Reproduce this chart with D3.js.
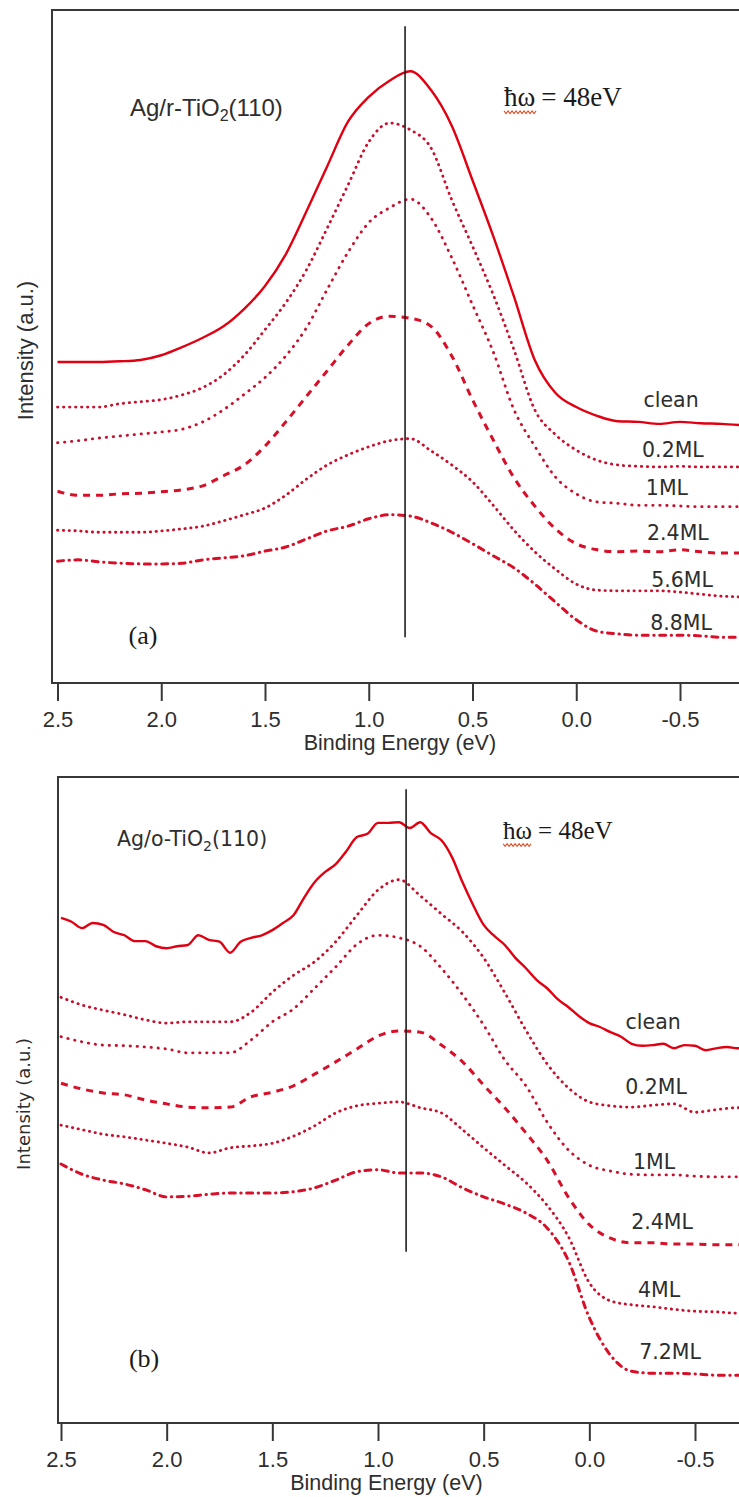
<!DOCTYPE html>
<html>
<head>
<meta charset="utf-8">
<script src="https://cdn.jsdelivr.net/npm/d3@7/dist/d3.min.js"></script>
<style>
  body { margin: 0; background: #fff; }
  svg { display: block; }
</style>
</head>
<body>
<div id="chart"></div>
<script>

// ---- data ----

// binding energy grid, eV
var energy = [2.5, 2.4, 2.3, 2.2, 2.1, 2.0, 1.9, 1.8, 1.7, 1.6, 1.5, 1.4, 1.3, 1.2, 1.1, 1.0, 0.9,
  0.8, 0.7, 0.6, 0.5, 0.4, 0.3, 0.2, 0.1, 0.0, -0.1, -0.2, -0.3, -0.4, -0.5, -0.6, -0.7, -0.8];

// finer grid for the noisy clean spectrum of panel (b)
var energy_fine = [2.50, 2.45, 2.40, 2.35, 2.30, 2.25, 2.20, 2.15, 2.10, 2.05, 2.00, 1.95, 1.90,
  1.85, 1.80, 1.75, 1.70, 1.65, 1.60, 1.55, 1.50, 1.45, 1.40, 1.35, 1.30, 1.25, 1.20, 1.15, 1.10,
  1.05, 1.00, 0.95, 0.90, 0.85, 0.80, 0.75, 0.70, 0.65, 0.60, 0.55, 0.50, 0.45, 0.40, 0.35, 0.30,
  0.25, 0.20, 0.15, 0.10, 0.05, 0.00, -0.05, -0.10, -0.15, -0.20, -0.25, -0.30, -0.35, -0.40,
  -0.45, -0.50, -0.55, -0.60, -0.65, -0.70, -0.75];

var tick_values = [2.5, 2.0, 1.5, 1.0, 0.5, 0.0, -0.5];

var coverage_a = ['clean', '0.2ML', '1ML', '2.4ML', '5.6ML', '8.8ML'];
var coverage_b = ['clean', '0.2ML', '1ML', '2.4ML', '4ML', '7.2ML'];

// panel (a) Ag/r-TiO2(110), intensity a.u. (offset spectra)
var a_clean = [47.7, 47.7, 47.7, 47.8, 48.0, 48.7, 49.9, 51.3, 53.0, 55.6, 59.0, 63.7, 70.1, 76.8,
  83.4, 87.1, 89.5, 90.9, 88.1, 82.8, 74.7, 66.4, 57.4, 48.0, 43.1, 41.0, 39.7, 38.9, 38.8, 38.5,
  38.8, 38.6, 38.5, 38.3];
var a_02ml = [41.0, 41.0, 41.0, 41.5, 41.8, 42.1, 42.8, 43.9, 45.8, 48.7, 52.5, 56.5, 61.4, 67.6,
  74.0, 80.4, 83.2, 82.2, 79.5, 71.8, 64.9, 57.7, 49.5, 40.6, 36.9, 34.6, 33.1, 32.4, 32.2, 32.1,
  32.2, 32.1, 32.1, 32.1];
var a_1ml = [35.7, 36.0, 36.4, 36.7, 37.0, 37.3, 37.7, 38.8, 40.6, 42.9, 45.4, 48.6, 52.8, 58.5,
  64.0, 68.4, 70.6, 71.9, 69.1, 63.2, 56.2, 49.2, 40.6, 35.2, 30.6, 28.1, 26.9, 26.7, 26.4, 26.4,
  26.3, 26.2, 26.2, 26.2];
var a_24ml = [28.5, 27.9, 27.9, 28.1, 28.2, 28.4, 28.7, 29.3, 30.8, 32.4, 35.2, 38.8, 42.6, 46.4,
  50.2, 53.4, 54.5, 54.2, 53.0, 48.6, 42.1, 36.1, 30.5, 26.3, 22.9, 20.7, 19.8, 19.5, 19.6, 19.5,
  19.8, 19.5, 19.3, 19.3];
var a_56ml = [22.7, 22.6, 22.4, 22.4, 22.4, 22.6, 22.9, 23.3, 24.1, 25.0, 26.0, 27.9, 30.3, 32.4,
  33.9, 35.1, 36.0, 36.3, 34.5, 32.4, 29.9, 26.4, 22.7, 19.5, 16.9, 14.7, 13.8, 13.7, 13.7, 13.7,
  13.5, 13.2, 12.9, 12.8];
var a_88ml = [18.1, 18.3, 18.0, 17.8, 17.7, 17.7, 17.8, 18.3, 18.6, 18.9, 19.6, 20.2, 21.4, 22.6,
  23.3, 24.4, 25.0, 24.8, 23.8, 22.4, 20.7, 18.9, 17.1, 14.7, 12.0, 9.4, 7.7, 7.3, 7.1, 7.1,
  7.1, 7.0, 6.8, 6.8];

// panel (b) Ag/o-TiO2(110)
var b_clean = [78.2, 77.6, 76.6, 77.4, 77.1, 76.0, 75.5, 74.6, 74.6, 73.8, 73.5, 73.8, 74.0, 75.5,
  74.8, 74.5, 72.8, 74.5, 75.1, 75.5, 76.3, 77.4, 78.6, 81.3, 83.7, 85.3, 86.5, 88.5, 90.7, 91.2,
  92.9, 92.9, 93.0, 92.1, 93.0, 91.3, 90.2, 87.6, 83.7, 80.2, 77.1, 75.4, 74.0, 72.0, 70.4, 68.6,
  67.3, 65.6, 64.4, 63.0, 61.9, 61.3, 60.5, 59.8, 58.7, 58.4, 58.5, 58.7, 58.0, 58.5, 58.4, 57.7,
  58.0, 58.2, 58.0, 58.0];
var b_02ml = [65.9, 64.7, 63.9, 63.2, 62.4, 61.9, 62.1, 62.1, 62.1, 63.6, 66.7, 69.3, 71.4, 74.5,
  78.6, 82.5, 84.1, 81.6, 78.8, 76.0, 72.0, 66.6, 60.8, 55.6, 51.9, 49.7, 49.1, 48.9, 49.2, 49.4,
  48.1, 48.5, 48.8, 48.8];
var b_1ml = [59.8, 59.0, 58.5, 58.4, 58.2, 57.9, 57.3, 57.3, 57.3, 59.3, 62.1, 64.1, 67.3, 70.6,
  74.1, 75.5, 75.1, 73.8, 70.4, 66.3, 61.6, 56.2, 52.2, 46.6, 42.3, 39.9, 39.0, 38.5, 38.4, 38.4,
  38.2, 38.1, 38.1, 38.1];
var b_24ml = [52.6, 51.7, 51.1, 50.8, 50.0, 49.4, 48.9, 48.8, 48.9, 50.5, 51.2, 52.2, 54.0, 55.9,
  57.9, 59.9, 60.7, 60.5, 58.5, 55.9, 52.3, 48.8, 44.9, 40.7, 35.0, 30.7, 28.6, 27.9, 27.9, 27.7,
  27.7, 27.6, 27.6, 27.6];
var b_4ml = [46.1, 45.4, 44.7, 44.3, 43.8, 43.3, 42.7, 41.8, 42.6, 42.9, 43.3, 44.4, 46.0, 48.0,
  49.1, 49.5, 49.7, 48.8, 48.0, 45.4, 42.6, 39.9, 37.2, 33.7, 28.9, 21.7, 18.9, 18.3, 18.0, 17.6,
  17.3, 17.2, 17.0, 17.0];
var b_72ml = [40.1, 38.5, 37.6, 37.0, 36.1, 35.0, 35.1, 35.4, 35.6, 35.6, 35.6, 35.8, 36.4, 37.6,
  38.9, 39.2, 38.7, 38.7, 38.1, 36.4, 35.0, 33.9, 32.5, 30.2, 25.2, 16.3, 10.5, 8.0, 7.7, 7.7,
  7.6, 7.4, 7.4, 7.4];


// ---- layout / styles ----

var width = 739, height = 1497;
var sans = 'Liberation Sans, Arial, sans-serif';
var dejavu = 'DejaVu Sans, Verdana, sans-serif';
var serif = 'Liberation Serif, Times New Roman, serif';
var frame_color = '#383838';
var text_color = '#2e2e2e';

// one style per curve, top to bottom
var line_styles = [
  { color: '#e10012', width: 2.4, dash: null, cap: 'butt' },          // clean
  { color: '#c80f2d', width: 2.8, dash: '0.4 5.6', cap: 'round' },    // dotted
  { color: '#c80f2d', width: 2.8, dash: '0.4 6.6', cap: 'round' },    // dotted, sparser
  { color: '#d80f28', width: 3, dash: '7 6', cap: 'butt' },           // dashed
  { color: '#c80f2d', width: 2.8, dash: '0.4 5.4', cap: 'round' },    // dotted
  { color: '#d80f28', width: 3, dash: '6 5.5 0.4 5.5', cap: 'round' } // dash-dot
];

var panels = [
  {
    id: 'a',
    frame: { left: 52, top: 10, bottom: 683, right: 745 },
    x_range: [57.5, 680],
    series: [
      { name: coverage_a[0], x: energy, y: a_clean },
      { name: coverage_a[1], x: energy, y: a_02ml },
      { name: coverage_a[2], x: energy, y: a_1ml },
      { name: coverage_a[3], x: energy, y: a_24ml },
      { name: coverage_a[4], x: energy, y: a_56ml },
      { name: coverage_a[5], x: energy, y: a_88ml }
    ],
    label_at: [[-0.457, 42.1], [-0.466, 34.6], [-0.437, 29.0], [-0.490, 22.3], [-0.510, 15.3], [-0.505, 8.9]],
    marker: { energy: 0.825, from: 97.6, to: 6.8 },
    title: { pre: 'Ag/r-TiO', sub: '2', post: '(110)', font: sans, size: 24, sub_size: 16, at: [2.151, 84.2] },
    photon: { size: 27, at: [0.348, 85.7] },
    tag: { text: '(a)', at: [2.088, 5.8] },
    ylabel: { font: sans, size: 22, base_x: 33 },
    xlabel_center: 0.85
  },
  {
    id: 'b',
    frame: { left: 58, top: 777, bottom: 1423, right: 745 },
    x_range: [61, 695],
    series: [
      { name: coverage_b[0], x: energy_fine, y: b_clean },
      { name: coverage_b[1], x: energy, y: b_02ml },
      { name: coverage_b[2], x: energy, y: b_1ml },
      { name: coverage_b[3], x: energy, y: b_24ml },
      { name: coverage_b[4], x: energy, y: b_4ml },
      { name: coverage_b[5], x: energy, y: b_72ml }
    ],
    label_at: [[-0.302, 62.1], [-0.316, 52.0], [-0.306, 40.4], [-0.344, 31.1], [-0.330, 20.6], [-0.382, 11.0]],
    marker: { energy: 0.867, from: 98.1, to: 26.5 },
    title: { pre: 'Ag/o-TiO', sub: '2', post: '(110)', font: dejavu, size: 20.5, sub_size: 14, at: [2.235, 89.3] },
    photon: { size: 25, at: [0.408, 90.4] },
    tag: { text: '(b)', at: [2.107, 8.7] },
    ylabel: { font: dejavu, size: 18, base_x: 30 },
    xlabel_center: 0.96
  }
];


// ---- drawing ----

var svg = d3.select('#chart').append('svg')
  .attr('width', width)
  .attr('height', height);

svg.append('rect')
  .attr('width', width)
  .attr('height', height)
  .attr('fill', '#ffffff');

panels.forEach(function(p){

  var x = d3.scaleLinear().domain([2.5, -0.5]).range(p.x_range);
  var y = d3.scaleLinear().domain([0, 100]).range([p.frame.bottom, p.frame.top]);

  var g = svg.append('g').attr('class', 'panel panel_' + p.id);

  // Frame: left, top and bottom (right side runs off the page)
  g.append('path')
    .attr('d', 'M' + p.frame.right + ',' + p.frame.top + 'H' + p.frame.left +
               'V' + p.frame.bottom + 'H' + p.frame.right)
    .attr('fill', 'none')
    .attr('stroke', frame_color)
    .attr('stroke-width', 2);

  // Bottom axis
  var axis = d3.axisBottom(x)
    .tickValues(tick_values)
    .tickFormat(function(d){ return d.toFixed(1); })
    .tickSize(18)
    .tickSizeOuter(0)
    .tickPadding(10);

  var axis_g = g.append('g')
    .attr('class', 'x_axis')
    .attr('transform', 'translate(0,' + p.frame.bottom + ')')
    .call(axis);

  axis_g.select('.domain').remove();
  axis_g.selectAll('.tick line')
    .attr('stroke', frame_color)
    .attr('stroke-width', 2);
  axis_g.selectAll('.tick text')
    .attr('fill', text_color)
    .style('font-family', sans)
    .style('font-size', '22px');

  // Axis titles
  g.append('text')
    .attr('x', x(p.xlabel_center))
    .attr('y', p.frame.bottom + 67)
    .attr('text-anchor', 'middle')
    .attr('fill', text_color)
    .style('font-family', sans)
    .style('font-size', '21.5px')
    .text('Binding Energy (eV)');

  g.append('text')
    .attr('transform', 'translate(' + p.ylabel.base_x + ',' + y(49.4) + ') rotate(-90)')
    .attr('text-anchor', 'middle')
    .attr('fill', text_color)
    .style('font-family', p.ylabel.font)
    .style('font-size', p.ylabel.size + 'px')
    .text('Intensity (a.u.)');

  // Spectra
  p.series.forEach(function(s, i){
    var st = line_styles[i];
    var line = d3.line()
      .x(function(d, k){ return x(s.x[k]); })
      .y(function(d){ return y(d); })
      .curve(d3.curveMonotoneX);

    g.append('path')
      .datum(s.y)
      .attr('class', 'spectrum')
      .attr('d', line)
      .attr('fill', 'none')
      .attr('stroke', st.color)
      .attr('stroke-width', st.width)
      .attr('stroke-linecap', st.cap)
      .attr('stroke-linejoin', 'round')
      .attr('stroke-dasharray', st.dash);

    // coverage label
    g.append('text')
      .attr('x', x(p.label_at[i][0]))
      .attr('y', y(p.label_at[i][1]) + 7)
      .attr('text-anchor', 'middle')
      .attr('fill', text_color)
      .style('font-family', dejavu)
      .style('font-size', '20.5px')
      .text(s.name);
  });

  // Vertical reference line
  g.append('line')
    .attr('x1', x(p.marker.energy))
    .attr('x2', x(p.marker.energy))
    .attr('y1', y(p.marker.from))
    .attr('y2', y(p.marker.to))
    .attr('stroke', '#1e1e1e')
    .attr('stroke-width', 1.6);

  // Sample title with subscript
  var title = g.append('text')
    .attr('x', x(p.title.at[0]))
    .attr('y', y(p.title.at[1]))
    .attr('fill', text_color)
    .style('font-family', p.title.font)
    .style('font-size', p.title.size + 'px');
  title.append('tspan').text(p.title.pre);
  title.append('tspan').attr('dy', 5).style('font-size', p.title.sub_size + 'px').text(p.title.sub);
  title.append('tspan').attr('dy', -5).text(p.title.post);

  // Photon energy
  var px = x(p.photon.at[0]), py = y(p.photon.at[1]);
  var hw = g.append('text')
    .attr('x', px)
    .attr('y', py)
    .attr('fill', '#1a1a1a')
    .style('font-family', serif)
    .style('font-size', p.photon.size + 'px')
    .text('\u0127\u03c9');
  var hw_len = hw.node().getComputedTextLength();
  g.append('text')
    .attr('x', px + hw_len + 6)
    .attr('y', py)
    .attr('fill', '#1a1a1a')
    .style('font-family', serif)
    .style('font-size', p.photon.size + 'px')
    .text('= 48eV');

  // spell-check squiggle under the symbol
  var sq = [];
  for (var k = 0; k <= Math.round(hw_len / 2); k++) {
    sq.push([px + k * 2, py + 6 + (k % 2 ? 1.3 : -1.3)]);
  }
  g.append('path')
    .attr('d', d3.line()(sq))
    .attr('fill', 'none')
    .attr('stroke', '#e0502a')
    .attr('stroke-width', 1.1);

  // Panel tag
  g.append('text')
    .attr('x', x(p.tag.at[0]))
    .attr('y', y(p.tag.at[1]))
    .attr('text-anchor', 'middle')
    .attr('fill', '#1a1a1a')
    .style('font-family', serif)
    .style('font-size', '26px')
    .text(p.tag.text);
});

</script>
</body>
</html>
